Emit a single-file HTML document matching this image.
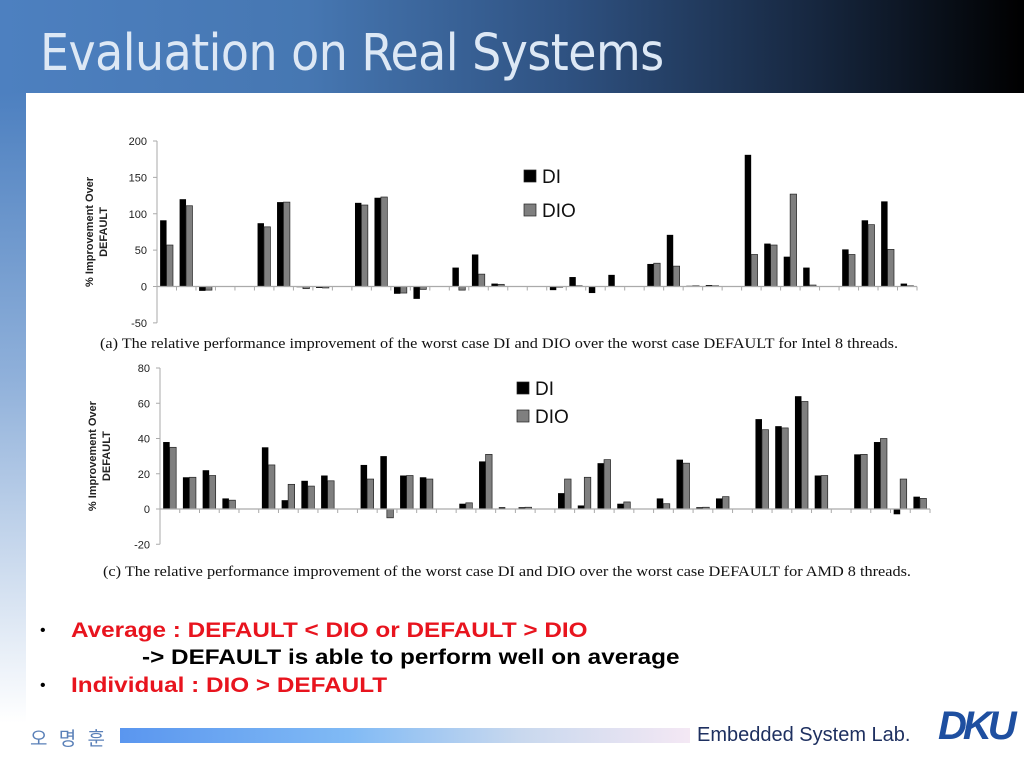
<!DOCTYPE html>
<html><head><meta charset="utf-8">
<style>
body{margin:0;width:1024px;height:768px;overflow:hidden;background:#fff;font-family:"Liberation Sans",sans-serif;position:relative}
#hdr{position:absolute;left:0;top:0;width:1024px;height:93px;background:linear-gradient(90deg,#4d80c0 0%,#4677b2 30%,#2f5282 55%,#16263e 80%,#000 100%)}
#title{position:absolute;left:40px;top:24px;font-size:51px;color:#dde8f5;font-family:"DejaVu Sans Condensed","Liberation Sans Narrow","Liberation Sans",sans-serif;letter-spacing:-0.5px}
#lstrip{position:absolute;left:0;top:93px;width:26px;height:630px;background:linear-gradient(180deg,#4d80c0 0%,#8fb0da 45%,#fff 100%)}
.bul{position:absolute;color:#e8141e;font-weight:bold;font-size:21.5px;font-family:"Liberation Sans",sans-serif;white-space:nowrap;transform:scaleX(1.13);transform-origin:0 0}
.dot{position:absolute;color:#000;font-size:16px}
</style></head><body>
<div id="hdr"><div id="title">Evaluation on Real Systems</div></div>
<div id="lstrip"></div>
<svg id="svg" width="1024" height="768" style="position:absolute;left:0;top:0"></svg>
<div class="dot" style="left:40px;top:622px">•</div>
<div class="bul" style="left:71px;top:618px">Average : DEFAULT &lt; DIO or DEFAULT &gt; DIO</div>
<div class="bul" style="left:142px;top:645px;color:#000">-&gt; DEFAULT is able to perform well on average</div>
<div class="dot" style="left:40px;top:677px">•</div>
<div class="bul" style="left:71px;top:673px">Individual : DIO &gt; DEFAULT</div>
<div style="position:absolute;left:30px;top:724px;color:#5a80b8;font-size:19px;font-family:'Liberation Sans','Noto Sans CJK KR',sans-serif;letter-spacing:3px">오 명 훈</div>
<div style="position:absolute;left:120px;top:728px;width:570px;height:15px;background:linear-gradient(90deg,#5a96ef,#80baf5 40%,#c8d8ee 70%,#f4e8f4)"></div>
<div style="position:absolute;left:697px;top:724px;color:#1e3060;font-size:20px;font-family:'Liberation Sans Narrow','Liberation Sans',sans-serif">Embedded System Lab.</div>
<div style="position:absolute;left:938px;top:704px;color:#1e4fa0;font-size:40px;font-weight:bold;font-style:italic;letter-spacing:-4px">DKU</div>
<script>
const catsA=39, catsC=39;
const diA=[91,120,-6,0,0,87,116,-1,-2,0,115,122,-10,-17,0,26,44,4,0,0,-5,13,-9,16,0,31,71,1,2,0,181,59,41,26,0,51,91,117,4];
const dioA=[57,111,-5,0,0,82,116,-3,-2,0,112,123,-9,-4,0,-5,17,3,0,0,-1,1,0,0,0,32,28,1,1,0,44,57,127,2,0,44,85,51,1];
const ticksA=[200,150,100,50,0,-50];
const diC=[38,18,22,6,0,35,5,16,19,0,25,30,19,18,0,3,27,1,1,0,9,2,26,3,0,6,28,1,6,0,51,47,64,19,0,31,38,-3,7];
const dioC=[35,18,19,5,0,25,14,13,16,0,17,-5,19,17,0,3.5,31,0,1,0,17,18,28,4,0,3,26,1,7,0,45,46,61,19,0,31,40,17,6];
const ticksC=[80,60,40,20,0,-20];
const svg=document.getElementById('svg');
const NS='http://www.w3.org/2000/svg';
function mk(t,a){const e=document.createElementNS(NS,t);for(const k in a)e.setAttribute(k,a[k]);svg.appendChild(e);return e;}
function chart(id,x0,x1,yTop,yZero,vTop,vMin,di,dio,ticks,n,leg,cap,capY){
  const sc=(yZero-yTop)/vTop;
  const Y=v=>yZero-v*sc;
  const cw=(x1-x0)/n;
  const X=i=>x0+i*cw;
  let e=mk('line',{x1:x0,y1:Y(ticks[0]),x2:x0,y2:Y(vMin),stroke:'#aaa','stroke-width':1});
  
  ticks.forEach(t=>{
    let l=mk('line',{x1:x0-4,y1:Y(t),x2:x0,y2:Y(t),stroke:'#aaa'});
    
    let tx=mk('text',{x:x0-10,y:Y(t)+4,'text-anchor':'end','font-size':11,fill:'#222','font-family':'Liberation Sans,sans-serif'});
    tx.textContent=t;
    
  });
  for(let i=0;i<n;i++){
    const w=cw*0.33;
    let b1=mk('rect',{x:X(i)+cw*0.16,y:Math.min(Y(di[i]),yZero),width:w,height:Math.abs(Y(di[i])-yZero),fill:'#000'});
    
    let b2=mk('rect',{x:X(i)+cw*0.16+w,y:Math.min(Y(dio[i]),yZero),width:w,height:Math.abs(Y(dio[i])-yZero),fill:'#7f7f7f',stroke:'#222','stroke-width':0.7});
    
  }
  let xa=mk('line',{x1:x0,y1:yZero,x2:x1,y2:yZero,stroke:'#aaa','stroke-width':1.2});
  
  for(let i=1;i<=n;i++){let l=mk('line',{x1:X(i),y1:yZero,x2:X(i),y2:yZero+4,stroke:'#aaa'});
    }
  const ym=(Y(ticks[0])+Y(vMin))/2;
  let yt=mk('text',{transform:`translate(${x0-64},${ym}) rotate(-90)`,'text-anchor':'middle','font-size':11,'font-weight':'bold',fill:'#222','font-family':'Liberation Sans,sans-serif'});
  yt.innerHTML=`<tspan x="0" dy="0">% Improvement Over</tspan><tspan x="0" dy="14">DEFAULT</tspan>`;
  
  [['DI','#000',leg[1]],['DIO','#7f7f7f',leg[2]]].forEach(([s,c,ly])=>{
    let r=mk('rect',{x:leg[0],y:ly-6,width:12,height:12,fill:c,stroke:'#222','stroke-width':0.7});
    
    let t=mk('text',{x:leg[0]+18,y:ly+7,'font-size':19,fill:'#111','font-family':'Liberation Sans,sans-serif'});t.textContent=s;
    
  });
  let c=mk('text',{x:capY[0],y:capY[1],'font-size':15,fill:'#111','font-family':'Liberation Serif,serif',textLength:capY[2],lengthAdjust:'spacingAndGlyphs'});c.textContent=cap;
  
}
chart('chart-a',157,917,141,286.5,200,-50,diA,dioA,ticksA,catsA,[524,176,210],'(a)  The relative performance improvement of the worst case DI and DIO over the worst case DEFAULT for Intel 8 threads.',[100,348,798]);
chart('chart-c',160,930,368,509,80,-20,diC,dioC,ticksC,catsC,[517,388,416],'(c)  The relative performance improvement of the worst case DI and DIO over the worst case DEFAULT for AMD 8 threads.',[103,576,808]);
</script>
</body></html>
